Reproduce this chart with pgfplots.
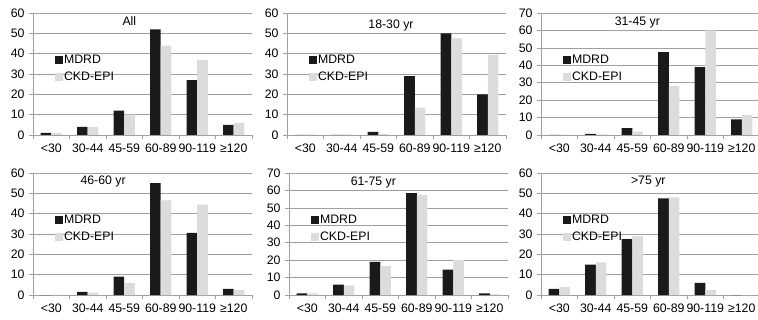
\documentclass[border=0pt]{standalone}
\usepackage{fontspec}
\setmainfont{Liberation Sans}
\usepackage{pgfplots}
\pgfplotsset{compat=1.18}
\definecolor{mdrd}{HTML}{1A1A1A}
\definecolor{ckd}{HTML}{DCDCDC}
\definecolor{gridc}{HTML}{A0A0A0}
\newcommand{\chartfont}{\fontsize{12.3bp}{14bp}\selectfont}
\pgfplotsset{
  panel/.style={
    scale only axis, width=219bp, height=122bp,
    anchor=south west,
    ybar=0pt, bar width=0.29,
    xmin=-0.5, xmax=5.5, ymin=0,
    xtick={0,...,5},
    xticklabels={<30,30-44,45-59,60-89,90-119,≥120},
    major x tick style={draw=none},
    minor xtick={-0.5,0.5,...,5.5},
    minor tick length=4bp, major tick length=4bp,
    tick align=outside,
    axis x line*=bottom, axis y line*=left,
    axis line style={gridc, line width=0.8bp},
    tick style={gridc, line width=0.7bp},
    ymajorgrids, grid style={gridc, line width=0.6bp},
    tick label style={font=\chartfont},
    /pgf/number format/assume math mode=true,
    xticklabel style={yshift=-1bp},
    yticklabel style={xshift=-1bp},
    legend image code/.code={\fill[##1,draw=none] (0bp,-4bp) rectangle (8bp,4bp);},
    legend style={at={(0.1,0.665)}, anchor=north west, draw=none, fill=none,
      font=\chartfont, row sep=4.5bp, inner sep=0pt,
      nodes={inner sep=1bp, anchor=west}},
    legend cell align=left,
    clip=false,
  },
  sixty/.style={ymax=60, ytick={0,10,...,60}},
  seventy/.style={ymax=70, ytick={0,10,...,70}},
}
\begin{document}
\begin{tikzpicture}
\path[use as bounding box] (0,0) rectangle (758bp,320bp);
% Panel 1: All
\begin{axis}[panel, sixty, at={(33bp,185bp)}]
\addplot[fill=mdrd, draw=none] coordinates {(0,1) (1,4) (2,12) (3,52) (4,27) (5,5)};
\addplot[fill=ckd, draw=none] coordinates {(0,1) (1,4) (2,10) (3,44) (4,37) (5,6)};
\legend{MDRD, CKD-EPI}
\node[font=\chartfont] at (rel axis cs:0.44,0.93) {All};
\end{axis}
% Panel 2: 18-30
\begin{axis}[panel, sixty, at={(287bp,185bp)}]
\addplot[fill=mdrd, draw=none] coordinates {(0,0) (1,0) (2,1.5) (3,29) (4,50) (5,20)};
\addplot[fill=ckd, draw=none] coordinates {(0,0.3) (1,0.3) (2,0.6) (3,13.5) (4,47.5) (5,39.5)};
\legend{MDRD, CKD-EPI}
\node[font=\chartfont] at (rel axis cs:0.475,0.895) {18-30 yr};
\end{axis}
% Panel 3: 31-45
\begin{axis}[panel, seventy, at={(541bp,185bp)}]
\addplot[fill=mdrd, draw=none] coordinates {(0,0) (1,0.7) (2,4) (3,47.5) (4,39) (5,9)};
\addplot[fill=ckd, draw=none] coordinates {(0,0.2) (1,0.3) (2,2) (3,28) (4,60) (5,11.5)};
\legend{MDRD, CKD-EPI}
\node[font=\chartfont] at (rel axis cs:0.44,0.92) {31-45 yr};
\end{axis}
% Panel 4: 46-60
\begin{axis}[panel, sixty, at={(33bp,25bp)}]
\addplot[fill=mdrd, draw=none] coordinates {(0,0) (1,1.5) (2,9) (3,55) (4,30.5) (5,3)};
\addplot[fill=ckd, draw=none] coordinates {(0,0.2) (1,1.2) (2,6) (3,46.5) (4,44.5) (5,2.5)};
\legend{MDRD, CKD-EPI}
\node[font=\chartfont] at (rel axis cs:0.32,0.93) {46-60 yr};
\end{axis}
% Panel 5: 61-75
\begin{axis}[panel, seventy, at={(289bp,25bp)}]
\addplot[fill=mdrd, draw=none] coordinates {(0,1) (1,6) (2,19) (3,58.5) (4,14.5) (5,1)};
\addplot[fill=ckd, draw=none] coordinates {(0,1) (1,5.5) (2,16.5) (3,57.5) (4,20) (5,0.3)};
\legend{MDRD, CKD-EPI}
\node[font=\chartfont] at (rel axis cs:0.385,0.92) {61-75 yr};
\end{axis}
% Panel 6: >75
\begin{axis}[panel, sixty, at={(541bp,25bp)}]
\addplot[fill=mdrd, draw=none] coordinates {(0,3) (1,15) (2,27.5) (3,47.5) (4,6) (5,0)};
\addplot[fill=ckd, draw=none] coordinates {(0,4) (1,16) (2,29) (3,48) (4,2.5) (5,0)};
\legend{MDRD, CKD-EPI}
\node[font=\chartfont] at (rel axis cs:0.49,0.93) {>75 yr};
\end{axis}
\end{tikzpicture}
\end{document}
